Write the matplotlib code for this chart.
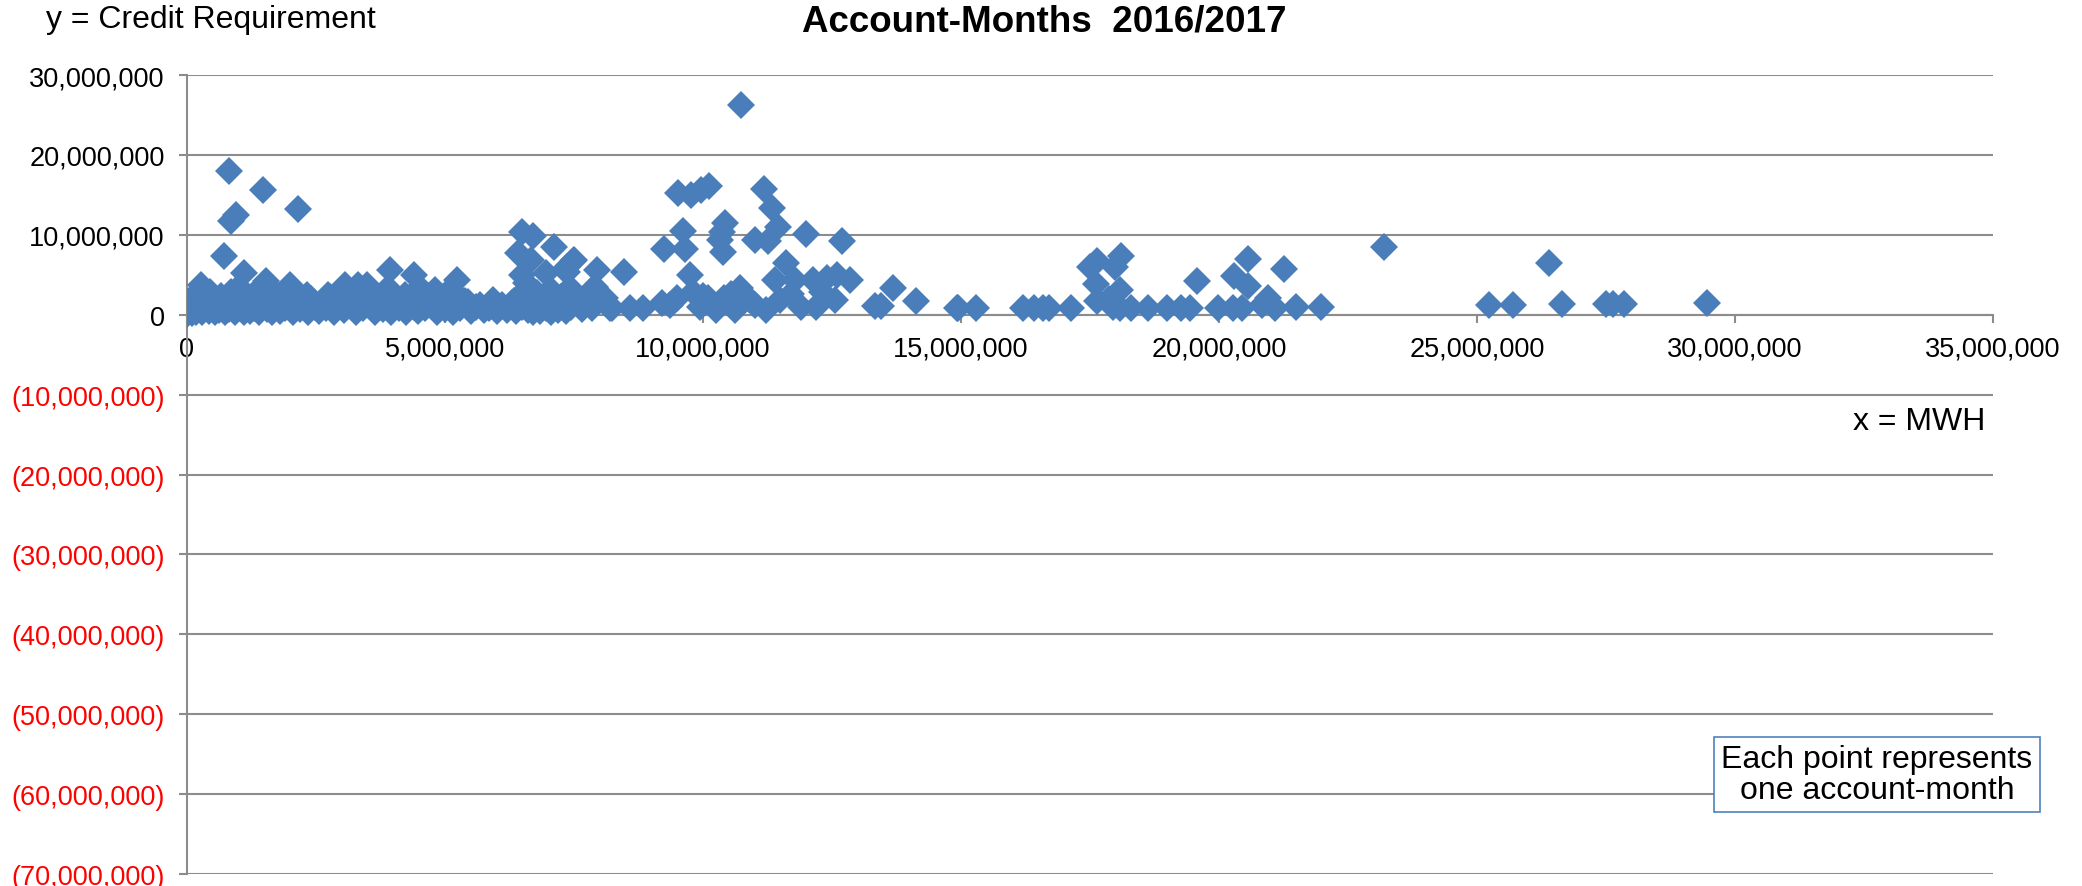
import numpy as np
import matplotlib.pyplot as plt

plt.rcParams['font.family'] = ['Liberation Sans', 'DejaVu Sans']

# dense band of small account-months (MWH in millions, credit requirement in millions)
band_x = [0.0, 0.05, 0.1, 0.12, 0.18, 0.2, 0.25, 0.3, 0.32, 0.38, 0.42, 0.45, 0.5, 0.55, 0.58,
          0.62, 0.66, 0.7, 0.74, 0.78, 0.82, 0.86, 0.9, 0.94, 0.98,
          1.02, 1.06, 1.1, 1.14, 1.18, 1.22, 1.26, 1.3, 1.35, 1.4, 1.45, 1.5, 1.55, 1.6, 1.65,
          1.7, 1.75, 1.8, 1.85, 1.9, 1.95,
          2.05, 2.1, 2.15, 2.2, 2.28, 2.35, 2.4, 2.48, 2.55, 2.62, 2.7, 2.78, 2.85, 2.92, 2.98,
          3.05, 3.12, 3.2, 3.28, 3.35, 3.42, 3.5, 3.58, 3.65, 3.72, 3.8, 3.88, 3.95,
          4.02, 4.1, 4.18, 4.25, 4.33, 4.4, 4.48, 4.55, 4.62, 4.7, 4.78, 4.85, 4.92,
          5.0, 5.08, 5.15, 5.22, 5.3, 5.5, 5.6, 5.75, 5.85, 6.0, 6.1,
          6.2, 6.3, 6.38, 6.45, 6.5, 6.55, 6.6, 6.65, 6.7, 6.75, 6.8, 6.85, 6.9, 6.95, 7.0,
          7.05, 7.1, 7.15, 7.2, 7.25, 7.3, 7.35, 7.45, 7.55, 7.65, 7.75, 7.85]
band_y = [0.1, 0.5, 0.2, 1.0, 0.4, 1.6, 0.8, 0.3, 2.2, 1.2, 0.5, 2.8, 0.9, 0.3, 1.7,
          0.6, 2.4, 1.1, 0.4, 1.9, 0.7, 2.9, 1.3, 0.4, 2.0,
          0.8, 1.5, 0.3, 2.6, 1.0, 0.5, 1.8, 0.9, 3.0, 0.4, 1.4, 2.3, 0.7, 1.6, 0.3,
          2.7, 1.0, 0.5, 1.9, 0.8, 2.4,
          0.4, 1.3, 2.2, 0.7, 1.6, 0.3, 2.0, 1.0, 0.5, 1.5, 0.8, 2.2, 0.4, 1.2, 1.8,
          0.6, 2.3, 1.0, 0.4, 1.7, 0.8, 2.4, 1.2, 0.4, 1.9, 0.7, 1.4, 0.3,
          2.0, 0.8, 1.5, 0.4, 2.2, 1.0, 0.5, 1.7, 0.8, 2.4, 1.2, 0.4, 1.9,
          0.7, 1.3, 0.4, 2.0, 0.9, 0.5, 1.0, 0.6, 0.9, 0.5, 1.2,
          0.6, 1.5, 0.5, 2.4, 1.0, 3.0, 0.6, 1.8, 0.4, 2.6, 1.2, 0.5, 2.0, 0.9, 1.5,
          0.4, 2.8, 1.1, 0.6, 2.2, 1.4, 0.5, 1.0, 2.4, 0.7, 1.5, 0.9]

# larger / scattered account-months
pts_x = [0.82, 1.48, 0.95, 0.85, 2.16, 0.72, 1.10, 0.28, 1.53, 2.0, 0.19, 0.99, 2.32, 2.71, 0.87, 0.51,
         3.93, 4.4, 5.23, 3.9, 3.06, 3.32, 3.48, 5.13, 2.74, 4.22, 4.55, 4.8, 5.0, 5.39, 5.45,
         6.49, 6.7, 7.11, 6.42, 6.67, 6.96, 6.49, 7.36, 7.49, 7.94, 6.58, 7.91, 7.03, 7.42, 8.07,
         8.23, 5.68, 5.94, 6.33, 6.78, 7.62, 7.7, 7.36, 7.5,
         8.47, 7.88, 8.1, 8.2, 8.58, 8.84,
         10.73, 9.52, 9.77, 9.97, 10.12, 11.18, 11.34, 9.62, 10.43, 10.36, 10.33, 10.39, 9.25, 9.65,
         11.46, 11.0, 11.27, 12.0, 12.7, 11.61, 11.78, 11.4, 9.75, 10.72, 13.69, 14.13, 13.33, 13.46,
         14.92, 12.14, 12.4, 12.59, 12.85, 12.56, 12.2, 11.9, 11.23, 11.0, 10.62, 10.26, 9.94, 9.36,
         9.5, 10.4, 10.1, 9.8, 10.0, 10.55, 10.9, 11.5, 11.7, 12.3, 9.2,
         14.95, 15.3, 16.21, 16.42, 16.6, 16.7, 17.14, 17.5, 17.63, 18.11, 17.98, 17.61, 17.63, 17.86,
         18.08, 17.95, 18.08, 18.3, 18.63, 18.99, 19.27, 19.43, 19.58, 19.99, 20.28, 20.44, 20.29,
         20.57, 20.57, 20.83, 20.96, 21.09, 21.26, 21.49, 21.97,
         23.19, 25.24, 25.69, 26.40, 26.64, 27.5, 27.64, 27.85, 29.45]
pts_y = [18.0, 15.6, 12.5, 11.7, 13.2, 7.4, 5.2, 3.75, 4.2, 3.75, 2.7, 3.3, 2.5, 1.9, 2.3, 2.1,
         5.6, 5.0, 4.4, 3.3, 3.75, 3.75, 3.75, 3.1, 2.5, 2.5, 3.1, 3.1, 2.5, 1.7, 1.6,
         10.4, 9.8, 8.5, 7.7, 6.9, 5.2, 5.0, 6.0, 6.7, 5.6, 4.0, 3.5, 3.1, 3.3, 2.1,
         0.8, 1.25, 1.9, 1.7, 2.7, 1.9, 1.1, 5.4, 6.8,
         5.3, 3.3, 2.1, 0.8, 0.8, 0.8,
         26.3, 15.2, 15.0, 15.6, 16.1, 15.7, 13.3, 10.5, 11.5, 10.4, 9.4, 7.9, 8.2, 8.2,
         11.0, 9.4, 9.2, 10.1, 9.2, 6.5, 4.4, 4.3, 5.0, 3.3, 3.4, 1.7, 1.1, 1.1,
         0.8, 4.3, 4.6, 5.0, 4.3, 1.9, 1.0, 1.0, 0.6, 1.2, 0.6, 0.6, 1.0, 1.25,
         2.1, 2.1, 2.1, 2.8, 2.4, 2.6, 2.0, 1.8, 2.6, 2.8, 1.5,
         0.8, 0.8, 0.8, 0.8, 0.8, 0.8, 0.8, 6.0, 6.7, 7.4, 6.0, 3.9, 1.7, 2.0,
         3.1, 1.0, 0.8, 0.8, 0.8, 0.8, 0.8, 0.8, 4.2, 0.8, 0.8, 0.8, 4.9,
         7.0, 3.6, 1.2, 2.1, 0.8, 5.7, 1.0, 1.0,
         8.5, 1.25, 1.25, 6.5, 1.3, 1.3, 1.3, 1.3, 1.5]

y_ticks = list(range(-70000000, 30000001, 10000000))
x_ticks = list(range(0, 35000001, 5000000))

x = np.array(band_x + pts_x) * 1e6
y = np.array(band_y + pts_y) * 1e6

fig = plt.figure(figsize=(20.82, 8.87), dpi=100)
ax = fig.add_axes([0.0898, 0.0135, 0.8674, 0.9008])

grid_col = '#8c8c8c'
for yt in y_ticks:
    ax.axhline(yt, color=grid_col, lw=1.5, zorder=1)

ax.plot(x, y, linestyle='none', marker='D', markersize=14.5, color='#4A7EBB',
        markeredgewidth=0, zorder=3)

ax.set_xlim(0, 35000000)
ax.set_ylim(-70000000, 30000000)

ax.spines['top'].set_visible(False)
ax.spines['right'].set_visible(False)
ax.spines['bottom'].set_position(('data', 0))
ax.spines['bottom'].set_color(grid_col)
ax.spines['left'].set_color(grid_col)
ax.spines['bottom'].set_linewidth(1.5)
ax.spines['left'].set_linewidth(1.5)
ax.spines['bottom'].set_zorder(2)

ax.set_xticks(x_ticks, [f'{v:,}' for v in x_ticks])
ylabels = [f'({abs(v):,})' if v < 0 else f'{v:,}' for v in y_ticks]
ax.set_yticks(y_ticks, ylabels)
for t, v in zip(ax.get_yticklabels(), y_ticks):
    t.set_color('red' if v < 0 else 'black')

ax.tick_params(axis='both', labelsize=19.5, color=grid_col, length=6, width=1.5)
ax.tick_params(axis='y', pad=10)
ax.tick_params(axis='x', pad=9)

fig.text(0.5015, 0.975, 'Account-Months  2016/2017', ha='center', va='center',
         fontsize=26.5, fontweight='bold')
fig.text(0.022, 0.978, 'y = Credit Requirement', ha='left', va='center', fontsize=23)
fig.text(0.9535, 0.524, 'x = MWH', ha='right', va='center', fontsize=23)
fig.text(0.9015, 0.126, 'Each point represents\none account-month', ha='center', va='center',
         fontsize=23, linespacing=1.05,
         bbox=dict(boxstyle='square,pad=0.22', facecolor='white', edgecolor='#4F81BD', lw=1.2))

fig.savefig('out.png', dpi=100)
